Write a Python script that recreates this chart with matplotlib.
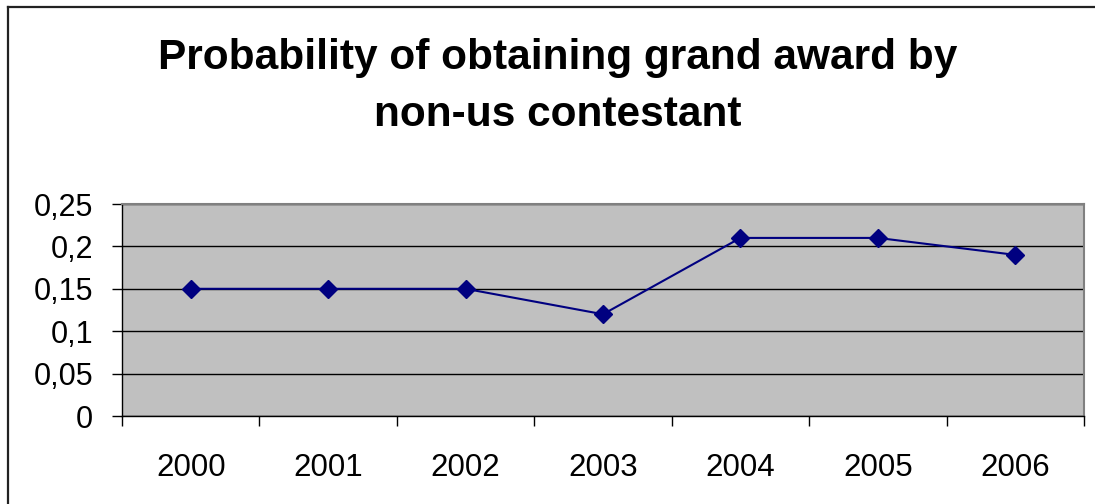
import matplotlib
matplotlib.use("Agg")
import matplotlib.pyplot as plt
from matplotlib.ticker import FixedLocator
from matplotlib.lines import Line2D

years = ["2000", "2001", "2002", "2003", "2004", "2005", "2006"]
probability = [0.15, 0.15, 0.15, 0.12, 0.21, 0.21, 0.19]
y_ticks = [0, 0.05, 0.1, 0.15, 0.2, 0.25]
y_labels = ["0", "0,05", "0,1", "0,15", "0,2", "0,25"]
title = "Probability of obtaining grand award by\nnon-us contestant"

plt.rcParams['font.family'] = ['Liberation Sans', 'DejaVu Sans']

W, H = 1095, 504
fig = plt.figure(figsize=(W / 100, H / 100), dpi=100)
# chart-area border (only left and top edges visible in the image)
fig.lines.append(Line2D([8 / W, 8 / W], [0, 1 - 6.5 / H], transform=fig.transFigure,
                        color='#222222', linewidth=1.6))
fig.lines.append(Line2D([8 / W, 1], [1 - 6.5 / H, 1 - 6.5 / H], transform=fig.transFigure,
                        color='#222222', linewidth=1.6))

ax = fig.add_axes([122 / W, (H - 416) / H, (1084 - 122) / W, (416 - 204) / H])
ax.set_facecolor('#C0C0C0')
x = list(range(len(years)))
ax.plot(x, probability, color='#000080', linewidth=1.5, marker='D', markersize=9.5,
        markerfacecolor='#000080', markeredgecolor='#000080', zorder=3)

ax.set_xlim(-0.5, len(years) - 0.5)
ax.set_ylim(0, 0.25)
ax.set_yticks(y_ticks)
ax.set_yticklabels(y_labels)
ax.yaxis.grid(True, color='black', linewidth=1)
ax.set_axisbelow(True)

ax.set_xticks(x)
ax.set_xticklabels(years)
ax.xaxis.set_minor_locator(FixedLocator([i - 0.5 for i in range(len(years) + 1)]))
ax.tick_params(axis='x', which='major', length=0, pad=27, labelsize=22.5)
ax.tick_params(axis='x', which='minor', length=7.2, width=1, direction='out')
ax.tick_params(axis='y', length=7.2, width=1, direction='out', pad=13.5, labelsize=22)

for s in ['top', 'right']:
    ax.spines[s].set_color('#808080')
    ax.spines[s].set_linewidth(1.5)
for s in ['left', 'bottom']:
    ax.spines[s].set_color('black')
    ax.spines[s].set_linewidth(1)

lines = title.split("\n")
fig.text(0.509, 1 - 69 / H, lines[0], ha='center', va='baseline', fontsize=30.5,
         fontweight='bold')
fig.text(0.509, 1 - 126 / H, lines[1], ha='center', va='baseline', fontsize=30.5,
         fontweight='bold')

fig.savefig("out.png", dpi=100)
